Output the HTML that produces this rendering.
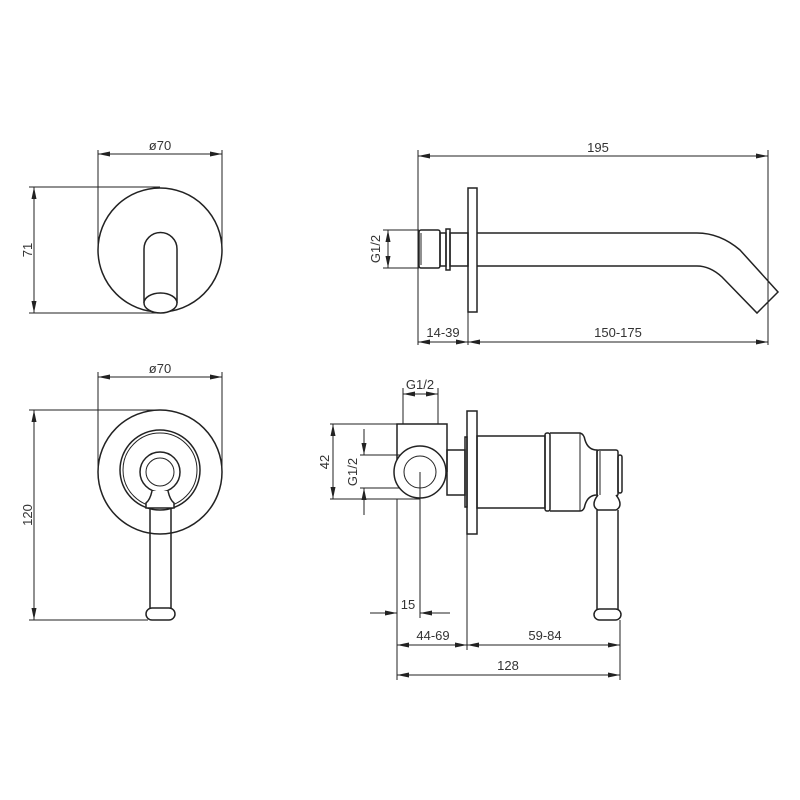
<!DOCTYPE html>
<html><head><meta charset="utf-8"><style>
html,body{margin:0;padding:0;background:#fff}
svg{display:block}
text{font-family:"Liberation Sans",sans-serif;font-size:13px;fill:#333}
</style></head><body>
<svg width="800" height="800" viewBox="0 0 800 800" xmlns="http://www.w3.org/2000/svg">
<defs>
<marker id="a" viewBox="0 0 12 5" refX="12" refY="2.5" markerWidth="12" markerHeight="5" orient="auto-start-reverse" markerUnits="userSpaceOnUse"><path d="M0,0 L12,2.5 L0,5 z" fill="#222"/></marker>
</defs>
<g fill="none" stroke="#222" stroke-width="1">
<line x1="98" y1="150" x2="98" y2="245"/><line x1="222" y1="150" x2="222" y2="245"/>
<line x1="98" y1="154" x2="222" y2="154" marker-start="url(#a)" marker-end="url(#a)"/>
<line x1="29" y1="187" x2="160" y2="187"/><line x1="29" y1="313" x2="160" y2="313"/>
<line x1="34" y1="187" x2="34" y2="313" marker-start="url(#a)" marker-end="url(#a)"/>
<circle cx="160" cy="250" r="62" stroke-width="1.5"/>
<path d="M144,303 L144,249 A16.5,16.5 0 0 1 177,249 L177,303" stroke-width="1.5"/>
<ellipse cx="160.5" cy="303" rx="16.5" ry="10" stroke-width="1.5" fill="#fff"/>
<line x1="98" y1="372" x2="98" y2="468"/><line x1="222" y1="372" x2="222" y2="468"/>
<line x1="98" y1="377" x2="222" y2="377" marker-start="url(#a)" marker-end="url(#a)"/>
<line x1="29" y1="410" x2="160" y2="410"/><line x1="29" y1="620" x2="148" y2="620"/>
<line x1="34" y1="410" x2="34" y2="620" marker-start="url(#a)" marker-end="url(#a)"/>
<circle cx="160" cy="472" r="62" stroke-width="1.5"/>
<circle cx="160" cy="470" r="40" stroke-width="1.5"/>
<circle cx="160" cy="470" r="37"/>
<circle cx="160" cy="472" r="20" stroke-width="1.5" fill="#fff"/>
<circle cx="160" cy="472" r="14"/>
<path d="M152,491 Q150,500 146,503 L146,508 L174,508 L174,503 Q170,500 168,491" stroke-width="1.5" fill="#fff"/>
<path d="M150,508 L150,608 M171,508 L171,608" stroke-width="1.5"/>
<rect x="146" y="608" width="29" height="12" rx="6" stroke-width="1.5" fill="#fff"/>
<line x1="418" y1="150" x2="418" y2="345"/><line x1="768" y1="150" x2="768" y2="345"/>
<line x1="418" y1="156" x2="768" y2="156" marker-start="url(#a)" marker-end="url(#a)"/>
<line x1="383" y1="230" x2="419" y2="230"/><line x1="383" y1="268" x2="419" y2="268"/>
<line x1="388" y1="230" x2="388" y2="268" marker-start="url(#a)" marker-end="url(#a)"/>
<rect x="419" y="230" width="21" height="38" rx="2" stroke-width="1.5"/>
<line x1="421" y1="233" x2="421" y2="265"/>
<rect x="440" y="233" width="6" height="33" stroke-width="1.5"/>
<rect x="446" y="229" width="4" height="41" stroke-width="1.5"/>
<rect x="450" y="233" width="18" height="33" stroke-width="1.5"/>
<rect x="468" y="188" width="9" height="124" stroke-width="1.5"/>
<path d="M477,233 L697,233 Q720,233 740,250 L778,292 L757,313 L722,277 Q710,266 697,266 L477,266" stroke-width="1.5"/>
<line x1="468" y1="312" x2="468" y2="345"/>
<line x1="418" y1="342" x2="468" y2="342" marker-start="url(#a)" marker-end="url(#a)"/>
<line x1="468" y1="342" x2="768" y2="342" marker-start="url(#a)" marker-end="url(#a)"/>
<line x1="403" y1="388" x2="403" y2="424"/><line x1="438" y1="388" x2="438" y2="424"/>
<line x1="403" y1="394" x2="438" y2="394" marker-start="url(#a)" marker-end="url(#a)"/>
<line x1="330" y1="424" x2="397" y2="424"/><line x1="330" y1="499" x2="420" y2="499"/>
<line x1="333" y1="424" x2="333" y2="499" marker-start="url(#a)" marker-end="url(#a)"/>
<line x1="360" y1="455" x2="420" y2="455"/><line x1="360" y1="488" x2="420" y2="488"/>
<line x1="364" y1="429" x2="364" y2="455" marker-end="url(#a)"/>
<line x1="364" y1="515" x2="364" y2="488" marker-end="url(#a)"/>
<path d="M397,472 L397,424 L447,424 L447,472" stroke-width="1.5"/>
<rect x="447" y="450" width="18" height="45" stroke-width="1.5"/>
<circle cx="420" cy="472" r="26" stroke-width="1.5" fill="#fff"/>
<circle cx="420" cy="472" r="16"/>
<rect x="465" y="437" width="2" height="70" stroke-width="1.5"/>
<rect x="467" y="411" width="10" height="123" stroke-width="1.5"/>
<rect x="477" y="436" width="68" height="72" stroke-width="1.5"/>
<rect x="545" y="433" width="5" height="78" rx="2" stroke-width="1.5"/>
<path d="M550,433 L580,433 Q584,434 585,440 Q588,450 597,450 L597,495 Q588,495 585,505 Q584,511 580,511 L550,511" stroke-width="1.5"/>
<line x1="580" y1="433" x2="580" y2="511"/>
<rect x="597" y="450" width="21" height="46" rx="2" stroke-width="1.5"/>
<line x1="600" y1="451" x2="600" y2="495"/>
<rect x="618" y="455" width="4" height="38" rx="2" stroke-width="1.5"/>
<path d="M598,495 Q594,500 594,504 Q594,508 598,510 L616,510 Q620,508 620,504 Q620,500 616,495" stroke-width="1.5" fill="#fff"/>
<path d="M597,510 L597,612 M618,510 L618,612" stroke-width="1.5"/>
<rect x="594" y="609" width="27" height="11" rx="5.5" stroke-width="1.5" fill="#fff"/>
<line x1="420" y1="472" x2="420" y2="618"/>
<line x1="370" y1="613" x2="397" y2="613" marker-end="url(#a)"/>
<line x1="450" y1="613" x2="420" y2="613" marker-end="url(#a)"/>
<line x1="397" y1="499" x2="397" y2="680"/>
<line x1="467" y1="534" x2="467" y2="650"/>
<line x1="620" y1="620" x2="620" y2="680"/>
<line x1="397" y1="645" x2="467" y2="645" marker-start="url(#a)" marker-end="url(#a)"/>
<line x1="467" y1="645" x2="620" y2="645" marker-start="url(#a)" marker-end="url(#a)"/>
<line x1="397" y1="675" x2="620" y2="675" marker-start="url(#a)" marker-end="url(#a)"/>
</g>
<g text-anchor="middle">
<text x="160" y="150">ø70</text>
<text x="160" y="373">ø70</text>
<text x="28" y="250" transform="rotate(-90 28 250)" dy="4">71</text>
<text x="28" y="515" transform="rotate(-90 28 515)" dy="4">120</text>
<text x="598" y="152">195</text>
<text x="376" y="249" transform="rotate(-90 376 249)" dy="4">G1/2</text>
<text x="443" y="337">14-39</text>
<text x="618" y="337">150-175</text>
<text x="420" y="389">G1/2</text>
<text x="325" y="462" transform="rotate(-90 325 462)" dy="4">42</text>
<text x="353" y="472" transform="rotate(-90 353 472)" dy="4">G1/2</text>
<text x="408" y="609">15</text>
<text x="433" y="640">44-69</text>
<text x="545" y="640">59-84</text>
<text x="508" y="670">128</text>
</g>
</svg>
</body></html>
